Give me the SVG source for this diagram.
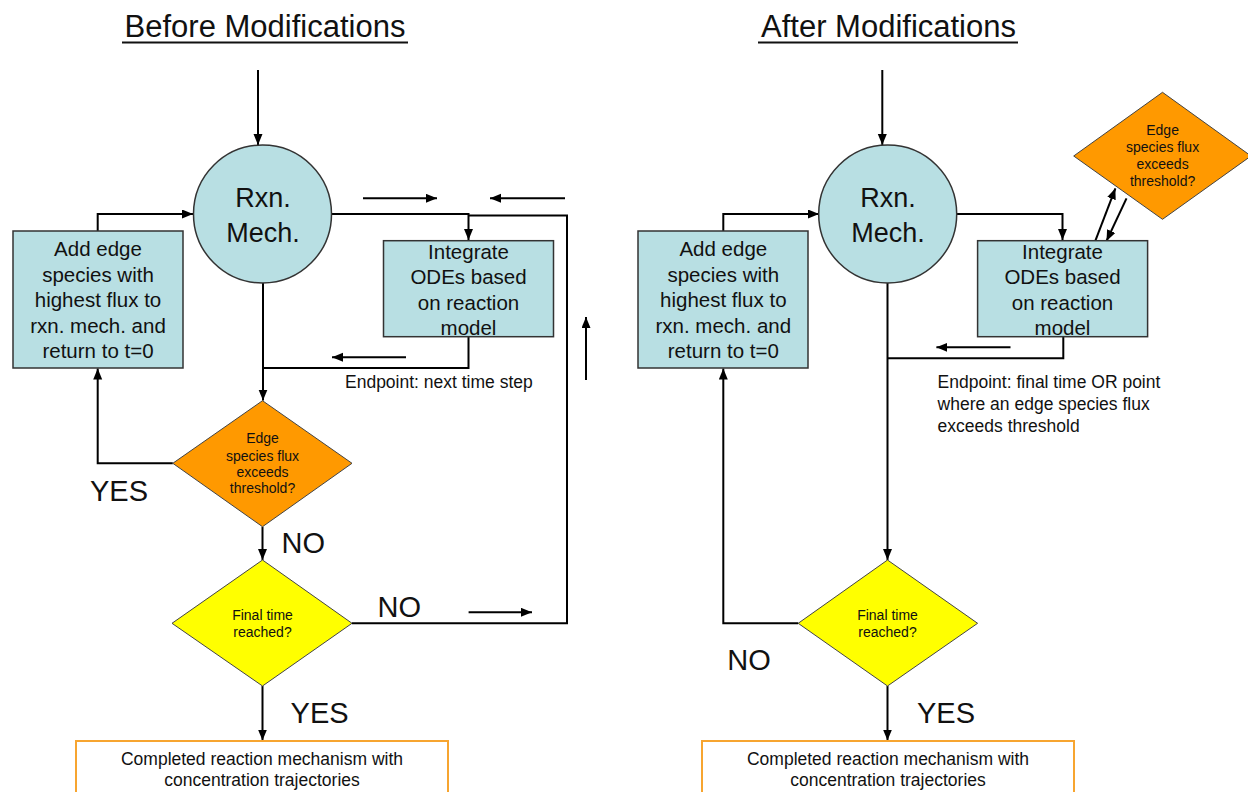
<svg xmlns="http://www.w3.org/2000/svg" width="1248" height="792" viewBox="0 0 1248 792">
<defs>
<marker id="ah" markerUnits="userSpaceOnUse" markerWidth="12" markerHeight="10" refX="11" refY="4.5" orient="auto">
<path d="M0,0 L11,4.5 L0,9 z" fill="#000"/>
</marker>
</defs>
<style>
text{font-family:"Liberation Sans",Arial,sans-serif;fill:#111}
.title{font-size:31px;text-anchor:middle}
.node{fill:#b8dfe3;stroke:#333;stroke-width:1.5}
.orange{fill:#ff9900;stroke:#444;stroke-width:1}
.yellow{fill:#ffff00;stroke:#444;stroke-width:1}
.final{fill:#fff;stroke:#f7a530;stroke-width:2}
.big{font-size:27px;text-anchor:middle}
.box{font-size:20.5px;text-anchor:middle}
.dia{font-size:14px;text-anchor:middle}
.lab{font-size:29px}
.ep{font-size:17.5px}
.fin{font-size:17.5px;text-anchor:middle}
.c{fill:none;stroke:#000;stroke-width:2}
.a{fill:none;stroke:#000;stroke-width:2;marker-end:url(#ah)}
</style>
<rect width="1248" height="792" fill="#fff"/>

<g id="titles">
<text class="title" x="265" y="36.5">Before Modifications</text>
<line x1="122" y1="42.5" x2="408" y2="42.5" stroke="#111" stroke-width="2"/>
<text class="title" x="888.5" y="36.5">After Modifications</text>
<line x1="758" y1="42.5" x2="1018" y2="42.5" stroke="#111" stroke-width="2"/>
</g>

<g id="connectors">
<!-- left -->
<path class="a" d="M258,70 V145"/>
<path class="a" d="M97.7,231 V214 H193"/>
<path class="a" d="M331,214 H468.5 V240"/>
<path class="c" d="M352,623.3 H567 V215.5 H468.5"/>
<path class="c" d="M468.5,336.7 V368 H263"/>
<path class="a" d="M263,283 V400.5"/>
<path class="a" d="M172.8,463.3 H97.7 V368.5"/>
<path class="a" d="M262.5,526.7 V560"/>
<path class="a" d="M262.5,686 V740.5"/>
<path class="a" d="M363,198.3 H437"/>
<path class="a" d="M565,198.3 H490"/>
<path class="a" d="M586,380 V317"/>
<path class="a" d="M406,357.3 H332"/>
<path class="a" d="M468.6,612.3 H532"/>
<!-- right -->
<path class="a" d="M882.3,70 V145"/>
<path class="a" d="M723.3,231 V214 H819"/>
<path class="a" d="M956,214 H1062.5 V240"/>
<path class="a" d="M1095.4,240.7 L1115.4,188.3"/>
<path class="a" d="M1126.5,198.3 L1106.5,241"/>
<path class="c" d="M1063.3,336.7 V358.3 H887.5"/>
<path class="a" d="M887.5,283 V560"/>
<path class="a" d="M798.2,623.3 H723.3 V368.5"/>
<path class="a" d="M887.5,686 V740.5"/>
<path class="a" d="M1010.5,347.3 H936.4"/>
</g>

<!-- Left (Before) nodes -->
<g id="rxn-before">
<ellipse class="node" cx="262.5" cy="214" rx="69" ry="69"/>
<text class="big" x="263" y="206.5">Rxn.</text>
<text class="big" x="263" y="241.5">Mech.</text>
</g>
<g id="add-before">
<rect class="node" x="13" y="231" width="170" height="137"/>
<text class="box" x="98" y="256">Add edge</text>
<text class="box" x="98" y="281.5">species with</text>
<text class="box" x="98" y="306.7">highest flux to</text>
<text class="box" x="98" y="332.5">rxn. mech. and</text>
<text class="box" x="98" y="357.7">return to t=0</text>
</g>
<g id="integrate-before">
<rect class="node" x="383.5" y="240.7" width="170" height="96"/>
<text class="box" x="468.5" y="259">Integrate</text>
<text class="box" x="468.5" y="284">ODEs based</text>
<text class="box" x="468.5" y="310">on reaction</text>
<text class="box" x="468.5" y="335">model</text>
</g>
<g id="endpoint-before">
<text class="ep" x="345" y="388">Endpoint: next time step</text>
</g>
<g id="flux-before">
<polygon class="orange" points="262.5,400.7 352,463.3 262.5,526.7 172.8,463.3"/>
<text class="dia" x="262.5" y="443">Edge</text>
<text class="dia" x="262.5" y="461">species flux</text>
<text class="dia" x="262.5" y="477.3">exceeds</text>
<text class="dia" x="262.5" y="493.3">threshold?</text>
</g>
<g id="final-before">
<polygon class="yellow" points="262.5,560 352,623.3 262.5,686 172,623.3"/>
<text class="dia" x="262.5" y="620">Final time</text>
<text class="dia" x="262.5" y="636.7">reached?</text>
</g>
<g id="labels-before">
<text class="lab" x="90" y="500.7">YES</text>
<text class="lab" x="281.5" y="553.3">NO</text>
<text class="lab" x="377.6" y="617.3">NO</text>
<text class="lab" x="290.6" y="723.3">YES</text>
</g>
<g id="done-before">
<rect class="final" x="76" y="741" width="372" height="70"/>
<text class="fin" x="262" y="765">Completed reaction mechanism with</text>
<text class="fin" x="262" y="786">concentration trajectories</text>
</g>

<!-- Right (After) nodes -->
<g id="rxn-after">
<ellipse class="node" cx="887.7" cy="214" rx="69" ry="69"/>
<text class="big" x="888" y="206.5">Rxn.</text>
<text class="big" x="888" y="241.5">Mech.</text>
</g>
<g id="add-after">
<rect class="node" x="638" y="231" width="170" height="137"/>
<text class="box" x="723.3" y="256">Add edge</text>
<text class="box" x="723.3" y="281.5">species with</text>
<text class="box" x="723.3" y="306.7">highest flux to</text>
<text class="box" x="723.3" y="332.5">rxn. mech. and</text>
<text class="box" x="723.3" y="357.7">return to t=0</text>
</g>
<g id="integrate-after">
<rect class="node" x="977.6" y="240.7" width="170" height="96"/>
<text class="box" x="1062.5" y="259">Integrate</text>
<text class="box" x="1062.5" y="284">ODEs based</text>
<text class="box" x="1062.5" y="310">on reaction</text>
<text class="box" x="1062.5" y="335">model</text>
</g>
<g id="flux-after">
<polygon class="orange" points="1162.5,92.3 1251,156 1162.5,219.3 1073.7,156"/>
<text class="dia" x="1162.6" y="135">Edge</text>
<text class="dia" x="1162.6" y="152.3">species flux</text>
<text class="dia" x="1162.6" y="169">exceeds</text>
<text class="dia" x="1162.6" y="186">threshold?</text>
</g>
<g id="endpoint-after">
<text class="ep" x="937.6" y="388.3">Endpoint: final time OR point</text>
<text class="ep" x="937.6" y="410">where an edge species flux</text>
<text class="ep" x="937.6" y="431.7">exceeds threshold</text>
</g>
<g id="final-after">
<polygon class="yellow" points="887.5,560 977.6,623.3 887.5,686 798.2,623.3"/>
<text class="dia" x="887.5" y="620">Final time</text>
<text class="dia" x="887.5" y="636.7">reached?</text>
</g>
<g id="labels-after">
<text class="lab" x="727.3" y="670">NO</text>
<text class="lab" x="917" y="723.3">YES</text>
</g>
<g id="done-after">
<rect class="final" x="702" y="741" width="372" height="70"/>
<text class="fin" x="888" y="765">Completed reaction mechanism with</text>
<text class="fin" x="888" y="786">concentration trajectories</text>
</g>
</svg>
